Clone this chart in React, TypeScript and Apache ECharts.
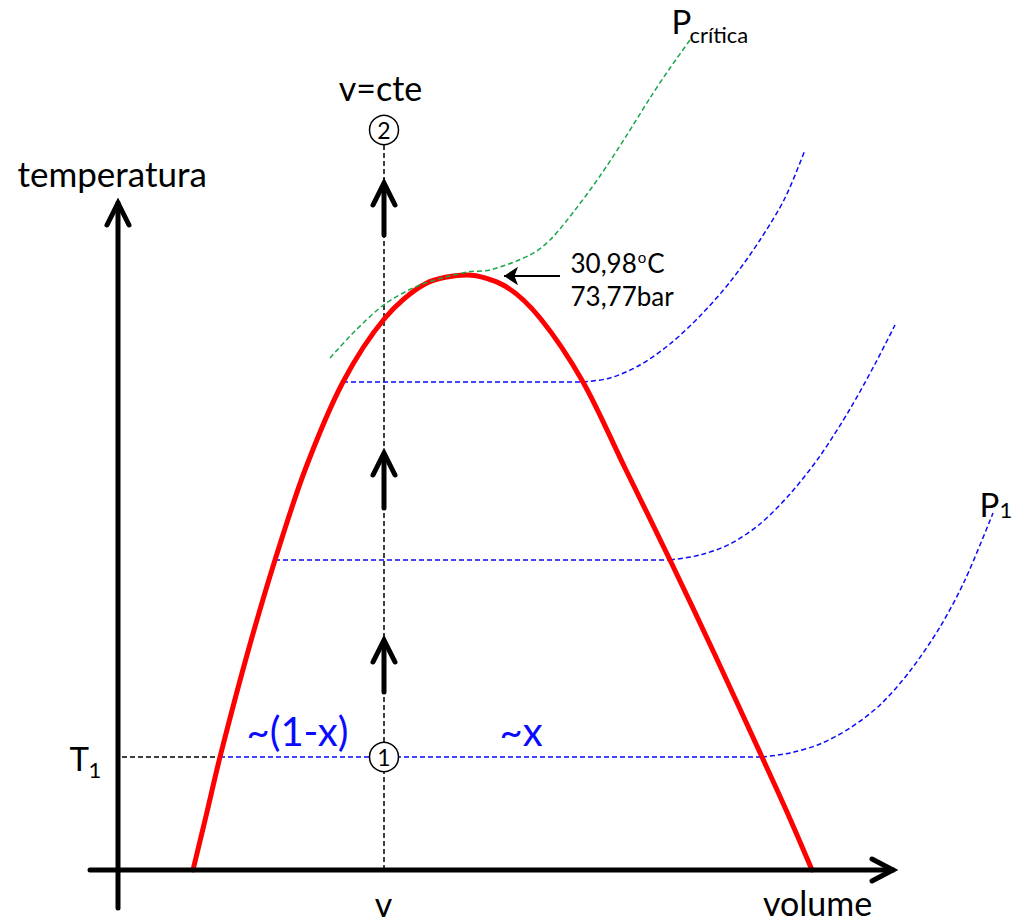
import React, { useEffect, useRef } from "react";
import * as echarts from "echarts";

// Diagram units: volume on x, temperature on y, origin where the two axes cross.
const domeVolume = [75, 89, 102, 129, 157, 187, 225, 267, 307, 349, 387, 422, 465, 507, 552, 597, 644, 669, 694];
const domeTemp = [0, 58, 113, 215, 310, 400, 488, 552, 586, 595, 584, 552, 488, 402, 310, 215, 113, 58, 0];

// isobars: liquid edge of the plateau, then the plateau end and the vapour branch
const isoTopStart = 225;
const isoTopVolume = [465, 492, 522, 552, 582, 612, 642, 667, 687];
const isoTopTemp = [488, 492, 505, 526, 554, 588, 630, 672, 720];

const isoMidStart = 157;
const isoMidVolume = [552, 582, 612, 642, 672, 702, 732, 757, 777];
const isoMidTemp = [310, 315, 326, 346, 376, 414, 461, 506, 545];

const isoLowStart = 102;
const isoLowVolume = [644, 672, 702, 732, 762, 792, 822, 847, 875];
const isoLowTemp = [113, 117, 126, 142, 165, 199, 243, 290, 357];

const critVolume = [212, 237, 267, 302, 349, 372, 412, 432, 457, 482, 507, 532, 552, 572];
const critTemp = [512, 539, 566, 585, 598, 600, 615, 630, 660, 694, 732, 772, 802, 830];

// constant-volume path (v) and the T1 level
const vConst = 266;
const vLineTop = 727;
const T1 = 113;
const state1 = [266, 113];
const state2 = [266, 740];

// arrows along v = cte: [tip temperature, tail temperature]
const upArrows = [
  [687, 635],
  [417, 362],
  [230, 178],
];

// axes extents
const yAxisLine = [[0, -38], [0, 667]];
const xAxisLine = [[-28, 0], [775, 0]];

// pointer to the critical point
const critPointer = [[442, 594], [386, 594]];

const zip = (xs: number[], ys: number[]) => xs.map((x, i) => [x, ys[i]]);

const BLUE = "#0a0aff";
const GREEN = "#1aa64a";
const RED = "#ff0000";
const FONT = "Lato";

type Ann = { text: string; x: number; y: number; size: number; color?: string; align?: string; rich?: boolean };
const annotations: Ann[] = [
  { text: "temperatura", x: -100, y: 697, size: 35 },
  { text: "v=cte", x: 263, y: 782, size: 34, align: "center" },
  { text: "P", x: 554, y: 849, size: 33 },
  { text: "crítica", x: 572, y: 835, size: 22 },
  { text: "{n|30,98}{s|o}{n|C}", x: 453, y: 607, size: 26, rich: true },
  { text: "73,77bar", x: 453, y: 574, size: 26 },
  { text: "P", x: 862, y: 366, size: 33 },
  { text: "1", x: 882, y: 360, size: 22 },
  { text: "T", x: -48, y: 112, size: 33 },
  { text: "1", x: -29, y: 100, size: 22 },
  { text: "~(1-x)", x: 129, y: 139, size: 40, color: BLUE },
  { text: "~x", x: 382, y: 139, size: 40, color: BLUE },
  { text: "v", x: 266, y: -34, size: 34, align: "center" },
  { text: "volume", x: 700, y: -33, size: 34, align: "center" },
];

function chevronUp(tip: number[]) {
  return [[tip[0] - 11, tip[1] - 22], tip, [tip[0] + 11, tip[1] - 22]];
}
function chevronRight(tip: number[]) {
  return [[tip[0] - 21, tip[1] + 11], tip, [tip[0] - 21, tip[1] - 11]];
}

function lineSeries(data: number[][], color: string, width: number, dashed: boolean, smooth: number | false, z = 2) {
  return {
    type: "line",
    data,
    smooth,
    showSymbol: false,
    symbol: "none",
    silent: true,
    z,
    lineStyle: {
      color,
      width,
      type: dashed ? [5, 3] : "solid",
      cap: dashed ? "butt" : "round",
      join: "miter",
    },
  };
}

export default function App() {
  const ref = useRef<HTMLDivElement>(null);
  useEffect(() => {
    if (!ref.current) return;
    const chart = echarts.init(ref.current, undefined, { renderer: "svg" });
    const series: any[] = [];

    // constant-volume dashed path and T1 level
    series.push(lineSeries([[vConst, 0], [vConst, vLineTop]], "#000", 1.5, true, false, 1));
    series.push(lineSeries([[4, T1], [isoLowStart, T1]], "#000", 1.5, true, false, 1));

    // isobars
    const iso = (start: number, xs: number[], ys: number[]) => {
      series.push(lineSeries([[start, ys[0]], [xs[0], ys[0]]], BLUE, 1.5, true, false, 1));
      series.push(lineSeries(zip(xs, ys), BLUE, 1.5, true, 0.3, 1));
    };
    iso(isoTopStart, isoTopVolume, isoTopTemp);
    iso(isoMidStart, isoMidVolume, isoMidTemp);
    iso(isoLowStart, isoLowVolume, isoLowTemp);

    // saturation dome
    series.push(lineSeries(zip(domeVolume, domeTemp), RED, 5, false, 0.3, 3));

    // critical isobar (drawn over the dome)
    series.push(lineSeries(zip(critVolume, critTemp), GREEN, 1.5, true, 0.3, 3.5));

    // axes
    series.push(lineSeries(yAxisLine, "#000", 5, false, false, 4));
    series.push(lineSeries(chevronUp(yAxisLine[1]), "#000", 5, false, false, 4));
    series.push(lineSeries(xAxisLine, "#000", 5, false, false, 4));
    series.push(lineSeries(chevronRight(xAxisLine[1]), "#000", 5, false, false, 4));

    // arrows along v = cte
    upArrows.forEach(([tip, tail]) => {
      series.push(lineSeries([[vConst, tail], [vConst, tip - 2]], "#000", 5, false, false, 4));
      series.push(lineSeries(chevronUp([vConst, tip]), "#000", 5, false, false, 4));
    });

    // pointer to critical point
    series.push({
      type: "lines",
      coordinateSystem: "cartesian2d",
      symbol: ["none", "arrow"],
      symbolSize: 14,
      silent: true,
      z: 5,
      lineStyle: { color: "#000", width: 2, opacity: 1, curveness: 0 },
      data: [{ coords: critPointer }],
    });

    // states 1 and 2
    series.push({
      type: "scatter",
      silent: true,
      z: 6,
      symbol: "circle",
      symbolSize: 29,
      itemStyle: { color: "#fff", borderColor: "#000", borderWidth: 1.5, opacity: 1 },
      label: {
        show: true,
        position: "inside",
        color: "#000",
        opacity: 1,
        fontFamily: FONT,
        fontSize: 23,
        formatter: (p: any) => p.name,
      },
      data: [
        { name: "1", value: state1 },
        { name: "2", value: state2 },
      ],
    });

    // texts
    series.push({
      type: "scatter",
      silent: true,
      z: 7,
      symbolSize: 1,
      itemStyle: { color: "rgba(0,0,0,0)", opacity: 1 },
      data: annotations.map((a) => ({
        name: a.text,
        value: [a.x, a.y],
        label: {
          show: true,
          position: [0, 0],
          align: a.align || "left",
          verticalAlign: "middle",
          color: a.color || "#000",
          opacity: 1,
          fontFamily: FONT,
          fontSize: a.size,
          formatter: a.text,
          rich: a.rich
            ? {
                n: { fontFamily: FONT, fontSize: a.size, color: "#000", verticalAlign: "bottom" },
                s: { fontFamily: FONT, fontSize: 15, color: "#000", verticalAlign: "top", padding: [0, 1, 0, 1] },
              }
            : undefined,
        },
      })),
    });

    chart.setOption({
      animation: false,
      backgroundColor: "#fff",
      grid: { left: 0, right: 0, top: 0, bottom: 0 },
      xAxis: { type: "value", min: -118, max: 894, show: false },
      yAxis: { type: "value", min: -53, max: 870, show: false },
      series,
    });
    return () => chart.dispose();
  }, []);
  return (
    <div
      ref={ref}
      style={{ position: "fixed", left: 0, top: 0, width: 1012, height: 923, background: "#fff" }}
    />
  );
}
